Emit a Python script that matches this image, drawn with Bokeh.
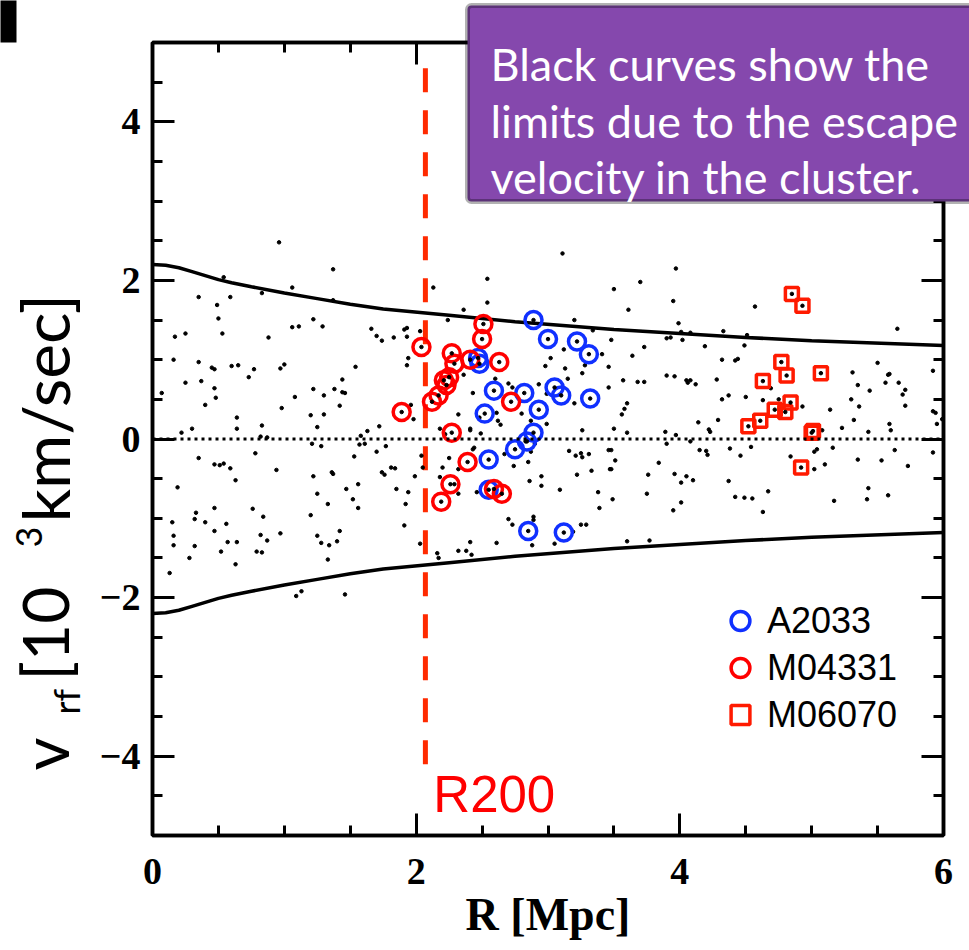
from math import pi
from bokeh.plotting import figure
from bokeh.models import (Range1d, FixedTicker, LinearAxis, Span, Label,
                          BoxAnnotation, Legend, LegendItem, GridBox, Column)
from bokeh.embed import file_html
from bokeh.resources import INLINE

# ---------------- data ----------------
# all galaxies (black dots): projected radius [Mpc], rest-frame velocity [10^3 km/s]
bg_r = [0.96, 1.37, 0.54, 1.06, 0.35, 0.59, 0.49, 0.83, 1.37, 0.50, 0.17, 0.25, 0.53, 0.88, 1.06, 1.11, 1.22, 1.29, 1.66, 1.70,
        1.74, 0.16, 0.35, 0.45, 0.47, 0.60, 0.65, 0.77, 0.97, 1.00, 0.73, 1.54, 0.25, 0.37, 0.47, 0.48, 0.40, 0.07, 1.08, 0.98,
        1.22, 1.30, 1.38, 1.44, 1.44, 1.46, 1.42, 1.20, 1.30, 0.64, 0.64, 0.83, 1.25, 0.30, 0.22, 1.72, 1.63, 1.58, 1.57, 1.61,
        1.21, 1.28, 0.82, 0.87, 0.78, 0.35, 0.47, 0.51, 0.54, 0.59, 0.63, 0.94, 1.22, 1.36, 1.37, 1.53, 1.70, 1.74, 0.19, 1.25,
        1.33, 1.47, 1.56, 1.52, 1.56, 1.20, 0.15, 0.32, 0.33, 0.40, 0.47, 0.56, 0.76, 0.84, 0.47, 0.16, 0.16, 0.32, 0.57, 0.64,
        0.82, 0.87, 0.97, 0.52, 0.79, 0.83, 1.25, 1.28, 1.34, 1.40, 1.42, 1.33, 0.28, 0.63, 0.13, 1.09, 1.13, 1.46,
        3.11, 2.54, 2.13, 2.54, 2.36, 2.24, 3.20, 3.34, 1.91, 1.93, 2.03, 1.83, 1.93, 1.94, 1.93, 2.36, 3.02, 2.98, 3.12,
        3.28, 3.41, 3.46, 3.13, 3.26, 3.15, 2.60, 2.70, 2.73, 2.93, 2.43, 2.99, 3.20, 1.96, 1.98, 2.32, 2.48, 2.61, 2.62, 2.64,
        2.80, 2.87, 2.99, 3.26, 2.18, 2.22, 2.41, 2.41, 2.49, 2.83, 2.90, 1.77, 2.44, 2.43, 2.04, 2.25, 2.87, 2.85, 2.67, 3.16,
        3.21, 3.25, 3.26, 3.31, 3.46, 1.76, 1.81, 1.84, 1.99, 2.05, 2.20, 2.18, 2.32, 2.74, 3.33, 3.47, 1.85, 1.94, 1.92, 2.95,
        2.95, 2.86, 3.09, 3.22, 3.38, 3.39, 2.29, 2.32, 2.46, 1.91, 2.70, 2.73, 2.89, 2.89, 3.25, 3.29, 2.03, 2.16, 2.17, 2.32,
        2.38, 2.41, 2.42, 2.61, 2.88, 3.05, 3.19,
        3.97, 3.70, 3.50, 3.95, 3.61, 4.57, 3.99, 4.01, 4.08, 4.33, 4.51, 3.48, 3.90, 3.93, 4.02, 3.73, 4.19, 4.49, 3.64, 4.32,
        4.42, 4.44, 3.90, 3.96, 4.05, 4.06, 4.08, 4.12, 4.28, 3.57, 3.68, 3.73, 3.46, 4.69, 4.37, 4.32, 4.50, 4.63, 4.75,
        4.93, 3.60, 3.58, 3.56, 4.14, 4.29, 3.50, 3.60, 3.89, 3.97, 4.22, 4.23, 3.90, 4.08, 3.48, 3.51, 3.48, 4.15, 4.20, 4.21,
        4.38, 4.46, 4.54, 4.84, 3.84, 3.76, 3.96, 4.01, 4.05, 4.10, 4.37, 3.49, 3.75, 4.01, 3.95, 4.42, 4.49, 4.55, 4.67, 4.63,
        3.60, 3.77,
        5.65, 5.50, 5.31, 5.58, 5.59, 5.56, 5.66, 5.71, 5.69, 5.35, 5.44, 5.30, 5.36, 5.71, 5.14, 5.32, 5.23, 5.43, 5.59, 5.60,
        5.92, 5.92, 5.94, 5.95, 5.99, 5.08, 5.04, 5.02, 5.16, 5.63, 5.35, 5.53, 5.73, 5.10, 5.02, 5.92, 5.43, 5.42, 5.17, 5.58]
bg_v = [2.48, 2.14, 2.04, 1.91, 1.79, 1.79, 1.69, 1.84, 1.75, 1.52, 1.29, 1.33, 1.33, 1.28, 1.41, 1.42, 1.51, 1.42, 1.39, 1.30,
        1.24, 1.00, 0.97, 0.90, 0.88, 0.92, 0.93, 0.88, 0.89, 0.94, 0.78, 0.91, 0.71, 0.73, 0.64, 0.52, 0.43, 0.58, 0.53, 0.39,
        0.63, 0.55, 0.63, 0.75, 0.59, 0.58, 0.42, 0.30, 0.31, 0.27, 0.13, 0.17, 0.15, 0.13, 0.08, 0.16, 0.10, 0.04, -0.07, -0.06,
        -0.06, -0.09, 0.03, 0.02, -0.18, -0.24, -0.32, -0.33, -0.31, -0.37, -0.52, -0.39, -0.47, -0.42, -0.44, -0.22, -0.16, -0.42, -0.61, -0.69,
        -0.82, -0.63, -0.57, -0.76, -0.87, -0.96, -1.05, -1.01, -0.93, -1.05, -0.87, -1.07, -0.88, -0.98, -1.16, -1.22, -1.34, -1.35, -1.30, -1.30,
        -1.21, -1.28, -1.19, -1.42, -1.42, -1.43, -1.22, -1.31, -1.34, -1.29, -1.16, -1.52, -1.50, -1.58, -1.69, -1.98, -1.92, -1.96,
        2.34, 2.02, 1.91, 1.72, 1.63, 1.50, 1.50, 1.37, 1.38, 1.40, 1.36, 1.28, 1.29, 1.02, 0.93, 0.81, 1.02, 0.92, 1.13,
        0.93, 1.07, 0.91, 0.89, 0.83, 0.76, 0.76, 0.70, 0.65, 0.69, 0.58, 0.57, 0.45, 0.43, 0.25, 0.31, 0.27, 0.33, 0.23, 0.18,
        0.32, 0.23, 0.19, 0.11, 0.13, 0.06, 0.13, 0.11, 0.07, -0.03, -0.06, -0.09, -0.11, -0.13, -0.21, -0.24, -0.16, -0.29, -0.19, -0.15,
        -0.21, -0.18, -0.23, -0.19, -0.14, -0.45, -0.36, -0.37, -0.47, -0.36, -0.36, -0.48, -0.38, -0.34, -0.40, -0.38, -0.63, -0.67, -0.82, -0.47,
        -0.59, -0.53, -0.64, -0.45, -0.67, -0.87, -0.57, -0.69, -0.67, -1.09, -1.01, -1.08, -0.98, -1.02, -1.08, -1.08, -1.32, -1.44, -1.50, -1.41,
        -1.41, -1.30, -1.46, -1.31, -1.34, -1.32, -1.17,
        2.15, 1.98, 1.89, 1.74, 1.63, 1.67, 1.46, 1.35, 1.34, 1.36, 1.31, 1.25, 1.27, 1.28, 1.25, 1.16, 1.17, 1.18, 1.05, 1.00,
        0.99, 1.01, 0.80, 0.79, 0.74, 0.71, 0.74, 0.69, 0.75, 0.74, 0.72, 0.72, 0.65, 0.64, 0.55, 0.50, 0.53, 0.49, 0.50,
        0.41, 0.45, 0.38, 0.31, 0.21, 0.24, 0.13, 0.08, 0.09, 0.05, 0.12, 0.09, -0.06, -0.03, -0.14, -0.27, -0.38, -0.14, -0.15, -0.20,
        -0.12, -0.21, -0.10, -0.22, -0.30, -0.45, -0.44, -0.55, -0.47, -0.52, -0.53, -0.76, -0.69, -0.80, -0.90, -0.73, -0.74, -0.75, -0.66, -0.92,
        -1.29, -1.28,
        1.39, 0.96, 0.84, 0.81, 0.82, 0.71, 0.71, 0.62, 0.56, 0.68, 0.61, 0.50, 0.41, 0.42, 0.37, 0.24, 0.14, 0.09, 0.19, 0.11,
        0.86, 0.35, 0.33, 0.19, 0.25, 0.11, -0.13, -0.16, -0.11, -0.14, -0.26, -0.27, -0.34, -0.32, -0.38, -0.17, -0.62, -0.76, -0.78, -0.71]

# cluster member candidates
a2033_r = [2.89, 3.00, 3.22, 3.31, 2.47, 2.48, 2.59, 2.82, 3.05, 3.10, 3.32, 2.93, 2.52, 2.89, 2.84, 2.75, 2.55, 2.55, 2.85, 3.12]
a2033_v = [1.50, 1.26, 1.23, 1.07, 1.02, 0.95, 0.61, 0.58, 0.65, 0.55, 0.51, 0.37, 0.32, 0.08, -0.03, -0.13, -0.26, -0.64, -1.16, -1.18]

m04331_r = [2.51, 2.50, 2.04, 2.27, 2.29, 2.41, 2.63, 2.25, 2.21, 2.23, 2.17, 2.12, 1.89, 2.72, 2.27, 2.39, 2.26, 2.19, 2.59, 2.65]
m04331_v = [1.45, 1.26, 1.16, 1.08, 0.95, 1.00, 0.97, 0.78, 0.74, 0.68, 0.55, 0.47, 0.34, 0.47, 0.08, -0.29, -0.57, -0.79, -0.63, -0.69]

m06070_r = [4.85, 4.93, 4.77, 4.81, 4.63, 4.84, 4.72, 4.80, 4.61, 4.52, 4.92, 5.00, 5.01, 5.07]
m06070_v = [1.83, 1.68, 0.97, 0.80, 0.73, 0.46, 0.37, 0.34, 0.23, 0.16, -0.36, 0.08, 0.10, 0.83]

# escape-velocity caustic (upper branch; lower branch is its mirror)
escape_r = [0.0, 0.1, 0.2, 0.3, 0.4, 0.5, 0.6, 0.75, 1.0, 1.25, 1.5, 1.75, 2.25, 2.75, 3.5, 4.0, 4.5, 5.0, 6.0]
escape_v = [2.20, 2.19, 2.16, 2.11, 2.06, 2.01, 1.97, 1.92, 1.84, 1.77, 1.70, 1.64, 1.56, 1.48, 1.38, 1.33, 1.28, 1.24, 1.18]
escape_v_low = [-v for v in escape_v]

r200 = 2.07

x_major = [0, 2, 4, 6]
x_minor = [0.5, 1, 1.5, 2.5, 3, 3.5, 4.5, 5, 5.5]
y_major = [-4, -2, 0, 2, 4]
y_minor = [-4.5, -3.5, -3, -2.5, -1.5, -1, -0.5, 0.5, 1, 1.5, 2.5, 3, 3.5, 4.5]
y_labels = {-4: "\u22124", -2: "\u22122", 0: "0", 2: "2", 4: "4"}

note_lines = ["Black curves show the", "limits due to the escape", "velocity in the cluster."]

W, H = 969, 950

# ---------------- main figure ----------------
p = figure(width=W, height=H, output_backend="svg", toolbar_location=None,
           x_range=Range1d(0, 6), y_range=Range1d(-5, 5),
           min_border_left=152, min_border_right=26, min_border_top=42, min_border_bottom=115,
           x_axis_location=None, y_axis_location=None)
p.grid.visible = False
p.outline_line_color = "black"
p.outline_line_width = 3.5
p.background_fill_color = "white"
p.border_fill_color = "white"

TICK_FONT = "Liberation Serif"


def style_axis(ax, major, minor, show_labels, standoff, overrides=None):
    ax.ticker = FixedTicker(ticks=major, minor_ticks=minor)
    ax.axis_line_color = "black"
    ax.axis_line_width = 3.5
    ax.major_tick_in = 22
    ax.major_tick_out = 0
    ax.minor_tick_in = 10
    ax.minor_tick_out = 0
    ax.major_tick_line_width = 3
    ax.minor_tick_line_width = 3
    ax.major_tick_line_color = "black"
    ax.minor_tick_line_color = "black"
    if show_labels:
        ax.major_label_text_font = TICK_FONT
        ax.major_label_text_font_style = "bold"
        ax.major_label_text_font_size = "38px"
        ax.major_label_text_color = "black"
        ax.major_label_standoff = standoff
        if overrides:
            ax.major_label_overrides = overrides
    else:
        ax.major_label_text_color = None


xb = LinearAxis()
style_axis(xb, x_major, x_minor, True, 23)
xb.axis_label = "R [Mpc]"
xb.axis_label_text_font = TICK_FONT
xb.axis_label_text_font_style = "bold"
xb.axis_label_text_font_size = "46px"
xb.axis_label_text_color = "black"
xb.axis_label_standoff = 2
p.add_layout(xb, "below")

xt = LinearAxis()
style_axis(xt, x_major, x_minor, False, 0)
p.add_layout(xt, "above")

yl = LinearAxis()
style_axis(yl, y_major, y_minor, True, 12, y_labels)
p.add_layout(yl, "left")

yr = LinearAxis()
style_axis(yr, y_major, y_minor, False, 0)
p.add_layout(yr, "right")

# zero-velocity dotted line
p.add_layout(Span(location=0, dimension="width", line_color="black", line_width=3, line_dash="3 4"))

# escape velocity curves
p.line(escape_r, escape_v, line_color="black", line_width=3.5)
p.line(escape_r, escape_v_low, line_color="black", line_width=3.5)

# R200 marker
p.segment(x0=[r200], y0=[-4.1], x1=[r200], y1=[4.75], line_color="#ff2a00", line_width=5, line_dash="24 18")

# all galaxies
p.scatter(bg_r, bg_v, marker="circle", size=3.5, color="black")

# members
r_a = p.scatter(a2033_r, a2033_v, marker="circle", size=17, fill_color=None,
                line_color="#1030ff", line_width=3.5)
r_m1 = p.scatter(m04331_r, m04331_v, marker="circle", size=17, fill_color=None,
                 line_color="#ff0000", line_width=3.5)
r_m2 = p.scatter(m06070_r, m06070_v, marker="square", size=13, fill_color=None,
                 line_color="#ff1a00", line_width=3.5)
p.scatter(a2033_r + m04331_r + m06070_r, a2033_v + m04331_v + m06070_v,
          marker="circle", size=3.5, color="black")

legend = Legend(items=[LegendItem(label="A2033", renderers=[r_a]),
                       LegendItem(label="M04331", renderers=[r_m1]),
                       LegendItem(label="M06070", renderers=[r_m2])],
                location=(563, 97), orientation="vertical",
                background_fill_alpha=0, border_line_color=None,
                label_text_font="Liberation Sans", label_text_font_size="36px",
                label_text_color="black",
                glyph_width=50, glyph_height=47, label_height=47,
                spacing=0, padding=0, margin=0, label_standoff=2)
p.add_layout(legend)

# R200 label
p.add_layout(Label(x=2.13, y=-4.48, text="R200", text_color="#ff0000",
                   text_font="Liberation Sans", text_font_size="51px",
                   text_baseline="alphabetic", text_align="left"))

# ---------------- overlay (pixel space, transparent) for items outside the frame ----------------
ov = figure(width=W, height=H, output_backend="svg", toolbar_location=None,
            x_range=Range1d(0, W), y_range=Range1d(H, 0), min_border=0,
            x_axis_location=None, y_axis_location=None)
ov.grid.visible = False
ov.outline_line_color = None
ov.background_fill_color = None
ov.border_fill_color = None

YF = "Lato"
def ylab(text, px_base, py_start, size):
    ov.add_layout(Label(x=px_base, y=py_start, text=text, angle=pi / 2,
                        text_align="left", text_baseline="alphabetic",
                        text_font=YF, text_font_size=size, text_color="black"))

ylab("v", 44, 770, "64px")
ylab("rf", 65, 714, "36px")
ylab("[10", 44, 680, "64px")
ylab("3", 28, 547, "36px")
ylab(" km/sec]", 44, 522, "66px")

# note box
ov.add_layout(BoxAnnotation(left=467, right=990, top=5, bottom=201,
                            fill_color="#8548ad", fill_alpha=1.0,
                            line_color="black", line_width=5, border_radius=4))
for txt, base in zip(note_lines, [63, 120, 176]):
    ov.add_layout(Label(x=490, y=base, text=txt, text_color="white",
                        text_font="Lato", text_font_size="45px",
                        text_baseline="alphabetic", text_align="left"))

# corner block
ov.add_layout(BoxAnnotation(left=-5, right=16, top=-5, bottom=42,
                            fill_color="black", fill_alpha=1.0, line_color=None))

layout = GridBox(children=[(p, 0, 0), (Column(children=[ov]), 0, 0)])
open("out.html", "w").write(file_html(layout, INLINE))
